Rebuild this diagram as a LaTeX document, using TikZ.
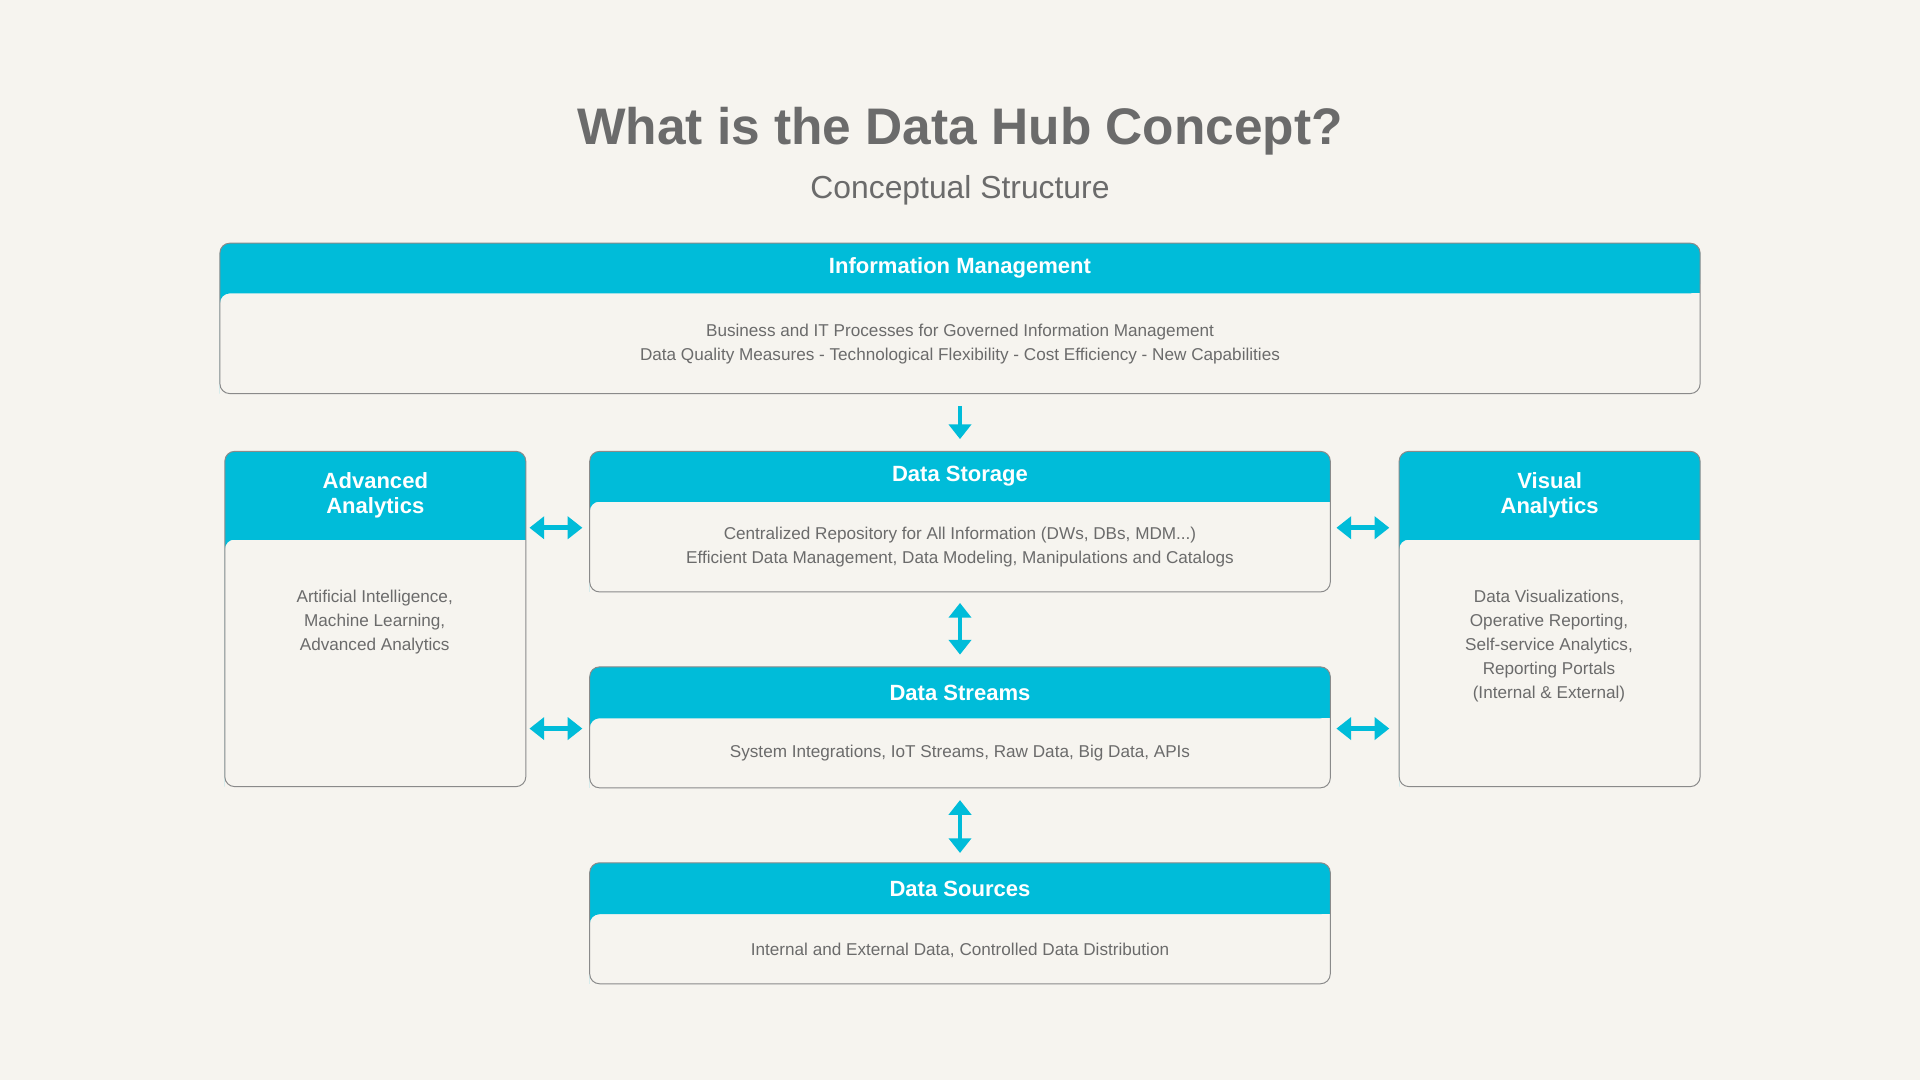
\documentclass[tikz,border=0pt]{standalone}
\usepackage{fontspec}
\setmainfont{Liberation Sans}
\usetikzlibrary{arrows.meta}
\definecolor{hubbg}{HTML}{F6F4EF}
\definecolor{hubcyan}{HTML}{00BCD9}
\definecolor{hubtext}{HTML}{6B6B6B}
\definecolor{hubline}{HTML}{8A8A8A}
% header strip with rounded top corners: box, height, text
\newcommand{\hubhead}[3]{%
  \fill[hubcyan,rounded corners=4pt] (#1.south west) |- (#1.north east) -- ([yshift=-#2]#1.north east) -- ([yshift=-#2]#1.north west) [sharp corners] -- cycle;
  \fill[hubcyan] ([yshift=-#2]#1.north west) rectangle ([yshift=-#2+5pt]#1.north east);
  \node[headtxt] at ([yshift=-#2/2]#1.north) {#3};
  \draw[hubline,rounded corners=4pt] (#1.south west) rectangle (#1.north east);}
\begin{document}
\begin{tikzpicture}[x=0.5pt,y=-0.5pt,
    box/.style={draw=none,minimum width=#1,inner sep=0pt},
    headtxt/.style={text=white,font=\bfseries\fontsize{9}{10.5}\selectfont,align=center},
    bodytxt/.style={text=hubtext,font=\fontsize{7}{9.8}\selectfont,align=center},
    dbl/.style={hubcyan,line width=2pt,{Triangle[width=9pt,length=6pt]}-{Triangle[width=9pt,length=6pt]}},
    sgl/.style={hubcyan,line width=2pt,-{Triangle[width=9pt,length=6pt]}}]
  \fill[hubbg] (0,0) rectangle (1568,882);
  \node[font=\bfseries\fontsize{21}{24}\selectfont,text=hubtext] (title) at (784,107) {What is the Data Hub Concept?};
  \node[font=\fontsize{13}{15}\selectfont,text=hubtext] (subtitle) at (784,155) {Conceptual Structure};
  % boxes
  \node[box=604pt,minimum height=61pt] (info) at (784,260) {};
  \node[box=122.5pt,minimum height=136.5pt] (adv) at (306.5,505.5) {};
  \node[box=302pt,minimum height=57pt] (stor) at (784,426) {};
  \node[box=122.5pt,minimum height=136.5pt] (vis) at (1265.5,505.5) {};
  \node[box=302pt,minimum height=49pt] (strm) at (784,594) {};
  \node[box=302pt,minimum height=49pt] (src) at (784,754) {};
  \hubhead{info}{20.5pt}{Information Management}
  \hubhead{adv}{36pt}{Advanced\\Analytics}
  \hubhead{stor}{20.5pt}{Data Storage}
  \hubhead{vis}{36pt}{Visual\\Analytics}
  \hubhead{strm}{21pt}{Data Streams}
  \hubhead{src}{21pt}{Data Sources}
  % body texts
  \node[bodytxt] at (784,281) {Business and IT Processes for Governed Information Management\\Data Quality Measures - Technological Flexibility - Cost Efficiency - New Capabilities};
  \node[bodytxt] at (784,447) {Centralized Repository for All Information (DWs, DBs, MDM...)\\Efficient Data Management, Data Modeling, Manipulations and Catalogs};
  \node[bodytxt] at (784,615) {System Integrations, IoT Streams, Raw Data, Big Data, APIs};
  \node[bodytxt] at (784,776) {Internal and External Data, Controlled Data Distribution};
  \node[bodytxt] at (306,508) {Artificial Intelligence,\\Machine Learning,\\Advanced Analytics};
  \node[bodytxt] at (1265,528) {Data Visualizations,\\Operative Reporting,\\Self-service Analytics,\\Reporting Portals\\(Internal \& External)};
  % arrows
  \draw[sgl] ([yshift=-5pt]info.south) -- ([yshift=5pt]stor.north);
  \draw[dbl] ([yshift=-4.5pt]stor.south) -- ([yshift=5pt]strm.north);
  \draw[dbl] ([yshift=-5pt]strm.south) -- ([yshift=4pt]src.north);
  \draw[dbl] ([xshift=1.5pt]adv.east |- 0,431) -- ([xshift=-3pt]stor.west |- 0,431);
  \draw[dbl] ([xshift=1.5pt]adv.east |- 0,595) -- ([xshift=-3pt]strm.west |- 0,595);
  \draw[dbl] ([xshift=2.5pt]stor.east |- 0,431) -- ([xshift=-4pt]vis.west |- 0,431);
  \draw[dbl] ([xshift=2.5pt]strm.east |- 0,595) -- ([xshift=-4pt]vis.west |- 0,595);
\end{tikzpicture}
\end{document}
